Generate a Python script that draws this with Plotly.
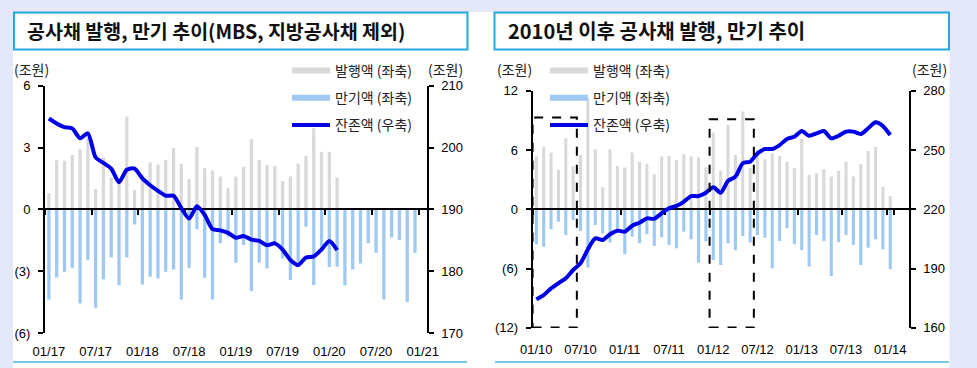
import plotly.graph_objects as go

# ---------------- data ----------------
# Left panel: 2017-01 .. 2021-01 (monthly categories)
l_cats = [f"{m:02d}/{y:02d}" for y in range(17, 22) for m in range(1, 13)][:49]
l_ticks = ["01/17", "07/17", "01/18", "07/18", "01/19", "07/19", "01/20", "07/20", "01/21"]
l_issue = [0.78, 2.39, 2.36, 2.64, 2.93, 3.5, 0.99, 2.53, 1.55, 1.3, 4.50, 0.94, 1.7,
           2.27, 2.18, 2.39, 2.98, 2.20, 1.47, 3.03, 1.99, 1.89, 1.60, 1.02, 1.59,
           2.07, 3.41, 2.39, 2.15, 2.10, 1.38, 1.59, 2.23, 2.59, 3.93, 2.80, 2.80, 1.54]
l_mature = [-4.38, -3.31, -3.03, -2.84, -4.57, -2.46, -4.78, -3.40, -2.33, -3.68, -2.33,
            -0.73, -3.65, -3.27, -3.35, -3.03, -2.92, -4.38, -2.84, -0.97, -3.32, -4.38,
            -1.65, -1.33, -2.59, -1.73, -3.97, -2.59, -2.87, -1.6, -2.38, -3.43, -2.8,
            -0.84, -3.67, -1.9, -2.8, -2.79, -3.7, -2.92, -2.63, -1.65, -2.11, -4.38,
            -1.36, -1.49, -4.49, -2.11]
l_balance = [204.7, 203.9, 203.3, 203.1, 201.5, 202.3, 198.4, 197.5, 196.6, 194.4, 196.4,
             196.6, 195.0, 193.9, 193.0, 192.2, 192.2, 190.2, 188.5, 190.5, 189.1, 186.8,
             186.6, 186.2, 185.4, 185.7, 185.1, 184.9, 184.2, 184.5, 183.5, 181.8, 181.0,
             182.2, 182.4, 183.5, 184.9, 183.4]

# Right panel: 2010-01 .. 2014-03
r_cats = [f"{m:02d}/{y:02d}" for y in range(10, 15) for m in range(1, 13)][:51]
r_ticks = ["01/10", "07/10", "01/11", "07/11", "01/12", "07/12", "01/13", "07/13", "01/14"]
r_issue = [5.33, 6.34, 5.74, 3.98, 7.19, 4.32, 5.50, 11.23, 6.07, 2.23, 6.07, 4.39, 4.22,
           5.74, 4.82, 4.59, 3.54, 5.33, 5.40, 4.99, 5.57, 5.33, 5.23, 4.22, 7.76, 3.91,
           8.54, 5.50, 9.89, 4.15, 6.0, 5.06, 5.67, 5.40, 4.82, 4.15, 7.12, 3.48, 3.64,
           4.08, 3.31, 3.91, 4.82, 3.31, 4.59, 5.90, 6.34, 2.29, 1.35]
r_mature = [-3.54, -3.78, -2.02, -1.25, -2.60, -1.08, -2.19, -5.90, -1.59, -2.43, -3.37,
            -2.36, -4.55, -2.77, -3.44, -2.53, -3.71, -2.83, -3.61, -3.95, -2.26, -3.04,
            -5.40, -3.27, -5.13, -5.63, -3.44, -4.15, -2.70, -3.37, -2.6, -2.88, -5.97,
            -3.21, -1.92, -3.54, -4.12, -5.80, -2.60, -3.21, -6.75, -3.34, -2.60, -3.61,
            -5.63, -3.88, -3.04, -4.05, -6.07]
r_balance = [174.5, 176.6, 180.0, 182.6, 185.1, 189.3, 192.7, 199.8, 205.3, 204.5, 207.4,
             209.2, 208.7, 211.7, 213.2, 215.4, 215.2, 218.0, 220.5, 221.7, 223.8, 226.7,
             226.7, 228.4, 231.1, 228.4, 234.4, 236.5, 243.3, 244.1, 248.3, 250.5, 250.5,
             252.5, 255.6, 256.7, 259.6, 257.2, 258.4, 259.6, 255.9, 257.2, 259.3, 259.3,
             258.1, 261.0, 264.0, 262.1, 257.6]

names = ["발행액 (좌축)", "만기액 (좌축)", "잔존액 (우축)"]
titles = ["공사채 발행, 만기 추이(MBS, 지방공사채 제외)", "2010년 이후 공사채 발행, 만기 추이"]
unit = "(조원)"

# ---------------- style ----------------
W, H = 977, 368
GRAY = "#D9D9D9"
BLUE = "#9FC9F2"
LINE = "#0000E6"
CYAN = "#25A8E0"
LAV = "#E5E8FA"
KR = "Noto Sans CJK KR"
NUM = "Liberation Sans, Noto Sans CJK KR"


def pad(vals, n):
    return list(vals) + [None] * (n - len(vals))


def px(x):
    return x / W


def py(y):
    return 1 - y / H


fig = go.Figure()

panels = [
    dict(cats=l_cats, issue=l_issue, mature=l_mature, bal=l_balance,
         xa="x", ya="y", ya2="y2", leg="legend"),
    dict(cats=r_cats, issue=r_issue, mature=r_mature, bal=r_balance,
         xa="x2", ya="y3", ya2="y4", leg="legend2"),
]

for p in panels:
    n = len(p["cats"])
    fig.add_trace(go.Bar(x=p["cats"], y=pad(p["issue"], n), xaxis=p["xa"], yaxis=p["ya"],
                         marker=dict(color=GRAY, line=dict(width=0)), width=0.42,
                         showlegend=False, name=names[0]))
    fig.add_trace(go.Bar(x=p["cats"], y=pad(p["mature"], n), xaxis=p["xa"], yaxis=p["ya"],
                         marker=dict(color=BLUE, line=dict(width=0)), width=0.42,
                         showlegend=False, name=names[1]))
    fig.add_trace(go.Scatter(x=p["cats"], y=pad(p["bal"], n), xaxis=p["xa"], yaxis=p["ya2"],
                             mode="lines", line=dict(color=LINE, width=4, shape="spline",
                                                     smoothing=0.7),
                             showlegend=False, name=names[2]))
    # legend entries
    for nm, col, w, g in [(names[0], GRAY, 6, "a"), (names[1], BLUE, 6, "b"), (names[2], LINE, 4, "c")]:
        fig.add_trace(go.Scatter(x=[None], y=[None], xaxis=p["xa"], yaxis=p["ya"], mode="lines",
                                 line=dict(color=col, width=w), name=nm, legend=p["leg"],
                                 legendgroup=p["leg"] + g, showlegend=True))

tickfont = dict(family=NUM, size=13, color="#000000")
yax_common = dict(showline=True, linecolor="black", linewidth=2, ticks="outside", ticklen=5,
                  tickwidth=2, tickcolor="black", showgrid=False, zeroline=False,
                  tickfont=tickfont, ticklabelstandoff=5, automargin=False)

L_x0, L_x1, L_yt, L_yb = 45, 426.7, 85.7, 333.0
R_x0, R_x1, R_yt, R_yb = 532.6, 908.7, 90.7, 327.9


def xax(domain, cats, ticks, zero_y, label_y):
    # category axis drawn at the zero level (line + boundary ticks),
    # with its labels pushed down to the bottom of the plot
    return dict(domain=domain, anchor="free", position=py(zero_y), type="category",
                categoryorder="array", categoryarray=cats, range=[-0.5, len(cats) - 0.5],
                tickmode="array", tickvals=ticks, tickson="boundaries", ticks="outside",
                ticklen=5, tickwidth=2, tickcolor="black", showline=True, linecolor="black",
                linewidth=2, showgrid=False, zeroline=False, tickfont=tickfont, tickangle=0,
                ticklabelstandoff=int(round(label_y - zero_y - 11)), automargin=False)


L_zero = (L_yt + L_yb) / 2
R_zero = (R_yt + R_yb) / 2

fig.update_layout(
    width=W, height=H, margin=dict(l=0, r=0, t=0, b=0, autoexpand=False),
    paper_bgcolor="white", plot_bgcolor="rgba(0,0,0,0)",
    barmode="relative",
    font=dict(family=KR, size=14, color="#000000"),
    xaxis=xax([px(L_x0), px(L_x1)], l_cats, l_ticks, L_zero, 350),
    yaxis=dict(domain=[py(L_yb), py(L_yt)], anchor="x", range=[-6, 6],
               tickvals=[-6, -3, 0, 3, 6], ticktext=["(6)", "(3)", "0", "3", "6"], **yax_common),
    yaxis2=dict(domain=[py(L_yb), py(L_yt)], side="right", anchor="x", range=[170, 210],
                tickvals=[170, 180, 190, 200, 210], **yax_common),
    xaxis2=xax([px(R_x0), px(R_x1)], r_cats, r_ticks, R_zero, 348),
    yaxis3=dict(domain=[py(R_yb), py(R_yt)], anchor="x2", range=[-12, 12],
                tickvals=[-12, -6, 0, 6, 12], ticktext=["(12)", "(6)", "0", "6", "12"],
                **yax_common),
    yaxis4=dict(domain=[py(R_yb), py(R_yt)], side="right", anchor="x2", range=[160, 280],
                tickvals=[160, 190, 220, 250, 280], **yax_common),
    legend=dict(x=px(287), y=py(55), xanchor="left", yanchor="top", itemwidth=38,
                bgcolor="rgba(0,0,0,0)", font=dict(family=KR, size=14, color="#222222"),
                tracegroupgap=6, itemclick=False, itemdoubleclick=False),
    legend2=dict(x=px(545), y=py(55), xanchor="left", yanchor="top", itemwidth=38,
                 bgcolor="rgba(0,0,0,0)", font=dict(family=KR, size=14, color="#222222"),
                 tracegroupgap=6, itemclick=False, itemdoubleclick=False),
)

shapes = [
    # lavender page background strips
    dict(type="rect", xref="paper", yref="paper", x0=0, x1=1, y0=py(12), y1=1,
         fillcolor=LAV, line=dict(width=0), layer="below"),
    dict(type="rect", xref="paper", yref="paper", x0=0, x1=px(13), y0=0, y1=1,
         fillcolor=LAV, line=dict(width=0), layer="below"),
    dict(type="rect", xref="paper", yref="paper", x0=px(949.5), x1=1, y0=0, y1=1,
         fillcolor=LAV, line=dict(width=0), layer="below"),
    # title boxes
    dict(type="rect", xref="paper", yref="paper", x0=px(14), x1=px(467.5), y0=py(49.5), y1=py(12.5),
         fillcolor="white", line=dict(color=CYAN, width=2), layer="below"),
    dict(type="rect", xref="paper", yref="paper", x0=px(494.5), x1=px(949), y0=py(49.5), y1=py(12.5),
         fillcolor="white", line=dict(color=CYAN, width=2), layer="below"),
    # bottom rules
    dict(type="line", xref="paper", yref="paper", x0=px(13), x1=px(467), y0=py(362), y1=py(362),
         line=dict(color="#4FB3E0", width=1.5)),
    dict(type="line", xref="paper", yref="paper", x0=px(495), x1=px(949), y0=py(362), y1=py(362),
         line=dict(color="#4FB3E0", width=1.5)),
    # dashed highlight boxes (right panel)
    dict(type="rect", xref="x2", yref="y3", x0=-0.5, x1=5.5, y0=-11.95, y1=9.3,
         line=dict(color="black", width=2, dash="dash")),
    dict(type="rect", xref="x2", yref="y3", x0=23.5, x1=29.5, y0=-11.95, y1=9.1,
         line=dict(color="black", width=2, dash="dash")),
]
fig.update_layout(shapes=shapes)

ann = [
    dict(text=f"<b>{titles[0]}</b>", x=px(25), y=py(31), xanchor="left", yanchor="middle",
         font=dict(family=KR, size=19.5, color="#111111")),
    dict(text=f"<b>{titles[1]}</b>", x=px(506), y=py(31), xanchor="left", yanchor="middle",
         font=dict(family=KR, size=20, color="#111111")),
    dict(text=unit, x=px(12), y=py(69), xanchor="left", yanchor="middle"),
    dict(text=unit, x=px(465), y=py(69), xanchor="right", yanchor="middle"),
    dict(text=unit, x=px(495), y=py(69), xanchor="left", yanchor="middle"),
    dict(text=unit, x=px(949), y=py(69), xanchor="right", yanchor="middle"),
]
for a in ann:
    a.update(xref="paper", yref="paper", showarrow=False)
    a.setdefault("font", dict(family=KR, size=14, color="#222222"))
fig.update_layout(annotations=ann)

fig.write_html("out.html", config={"displayModeBar": False},
               post_script="document.body.style.margin='0';document.body.style.overflow='hidden';")
